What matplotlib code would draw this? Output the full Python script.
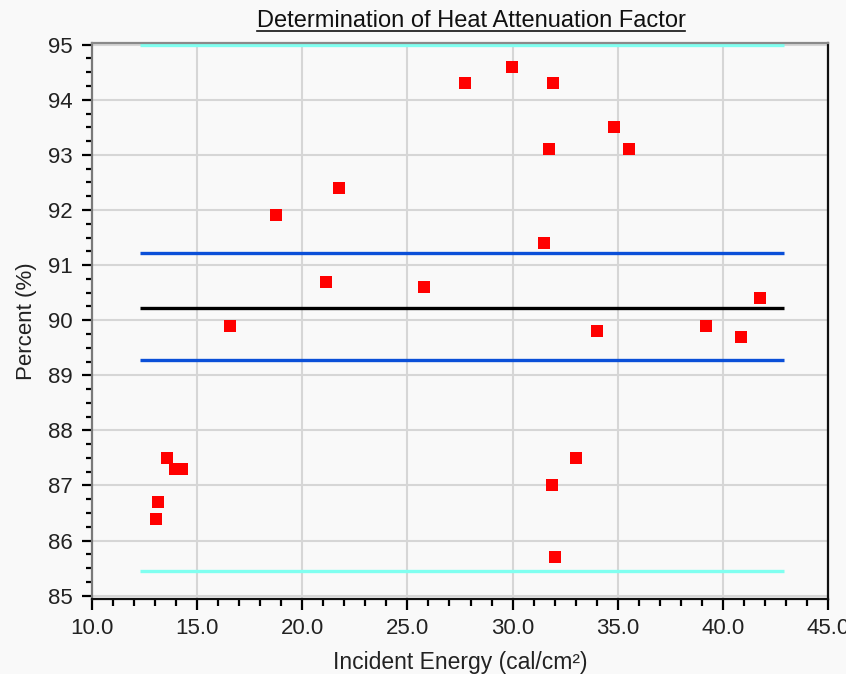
import matplotlib
matplotlib.use("Agg")
import matplotlib.pyplot as plt
from matplotlib.ticker import MultipleLocator, FormatStrFormatter
from matplotlib.lines import Line2D

# ---- data ----
energy = [13.04, 13.14, 13.57, 13.95, 14.28, 16.56, 18.75, 21.13, 21.75, 25.79,
          27.76, 29.96, 31.92, 31.72, 34.82, 35.55, 31.51, 34.0, 39.2, 40.85,
          41.78, 31.87, 33.01, 32.02]
percent = [86.4, 86.7, 87.5, 87.3, 87.3, 89.9, 91.9, 90.7, 92.4, 90.6,
           94.3, 94.6, 94.3, 93.1, 93.5, 93.1, 91.4, 89.8, 89.9, 89.7,
           90.4, 87.0, 87.5, 85.7]
line_x = [12.3, 42.9]
mean_level = 90.22
sd_levels = [91.22, 89.28]
limit_levels = [95.0, 85.45]

title = "Determination of Heat Attenuation Factor"
xlabel = "Incident Energy (cal/cm²)"
ylabel = "Percent (%)"

bg = "#f9f9f9"
plt.rcParams['font.family'] = ['Liberation Sans', 'DejaVu Sans']

fig = plt.figure(figsize=(8.46, 6.74), dpi=100, facecolor=bg)
ax = fig.add_axes([92/846, 1-599/674, 736/846, 556/674], facecolor=bg)

ax.set_xlim(10, 45)
ax.set_ylim(84.94, 95.03)

ax.grid(True, which='major', color='#d6d6d6', lw=1.5, zorder=0)
ax.set_axisbelow(True)

for lvl in limit_levels:
    ax.plot(line_x, [lvl, lvl], color='#80fff0', lw=2.4, solid_capstyle='butt', zorder=2)
for lvl in sd_levels:
    ax.plot(line_x, [lvl, lvl], color='#0a4fd8', lw=2.4, solid_capstyle='butt', zorder=2)
ax.plot(line_x, [mean_level, mean_level], color='black', lw=2.4, solid_capstyle='butt', zorder=2)

ax.plot(energy, percent, linestyle='none', marker='s', markersize=8.2,
        color='#ff0000', markeredgewidth=0, zorder=3)

ax.xaxis.set_major_locator(MultipleLocator(5))
ax.xaxis.set_minor_locator(MultipleLocator(1))
ax.xaxis.set_major_formatter(FormatStrFormatter('%.1f'))
ax.yaxis.set_major_locator(MultipleLocator(1))
ax.yaxis.set_minor_locator(MultipleLocator(0.25))
ax.yaxis.set_major_formatter(FormatStrFormatter('%d'))

ax.tick_params(axis='x', which='major', length=8, width=1.6, direction='out',
               labelsize=16, pad=6, colors='black')
ax.tick_params(axis='x', which='minor', length=5, width=1.6, direction='out')
ax.tick_params(axis='y', which='major', length=7, width=1.6, direction='out',
               labelsize=16, pad=7, colors='black')
ax.tick_params(axis='y', which='minor', length=4, width=1.6, direction='out')
for lab in ax.get_xticklabels() + ax.get_yticklabels():
    lab.set_color('#222222')

ax.spines['left'].set_color('#7a7a7a')
ax.spines['top'].set_color('#8a8a8a')
ax.spines['right'].set_color('#111111')
ax.spines['bottom'].set_color('#111111')
for s in ax.spines.values():
    s.set_linewidth(1.6)

ax.set_xlabel(xlabel, fontsize=16.5, color='#222222', labelpad=8)
ax.set_ylabel(ylabel, fontsize=16, color='#222222', labelpad=8)

t = fig.text(471/846, 1-21/674, title, ha='center', va='center', fontsize=17, color='#111111')
fig.canvas.draw()
bb = t.get_window_extent(renderer=fig.canvas.get_renderer())
uy = (bb.y0 + 1) / fig.bbox.height
fig.add_artist(Line2D([bb.x0 / fig.bbox.width, bb.x1 / fig.bbox.width], [uy, uy],
                      transform=fig.transFigure, color='#111111', lw=1.2))

fig.savefig("out.png", dpi=100, facecolor=bg)
